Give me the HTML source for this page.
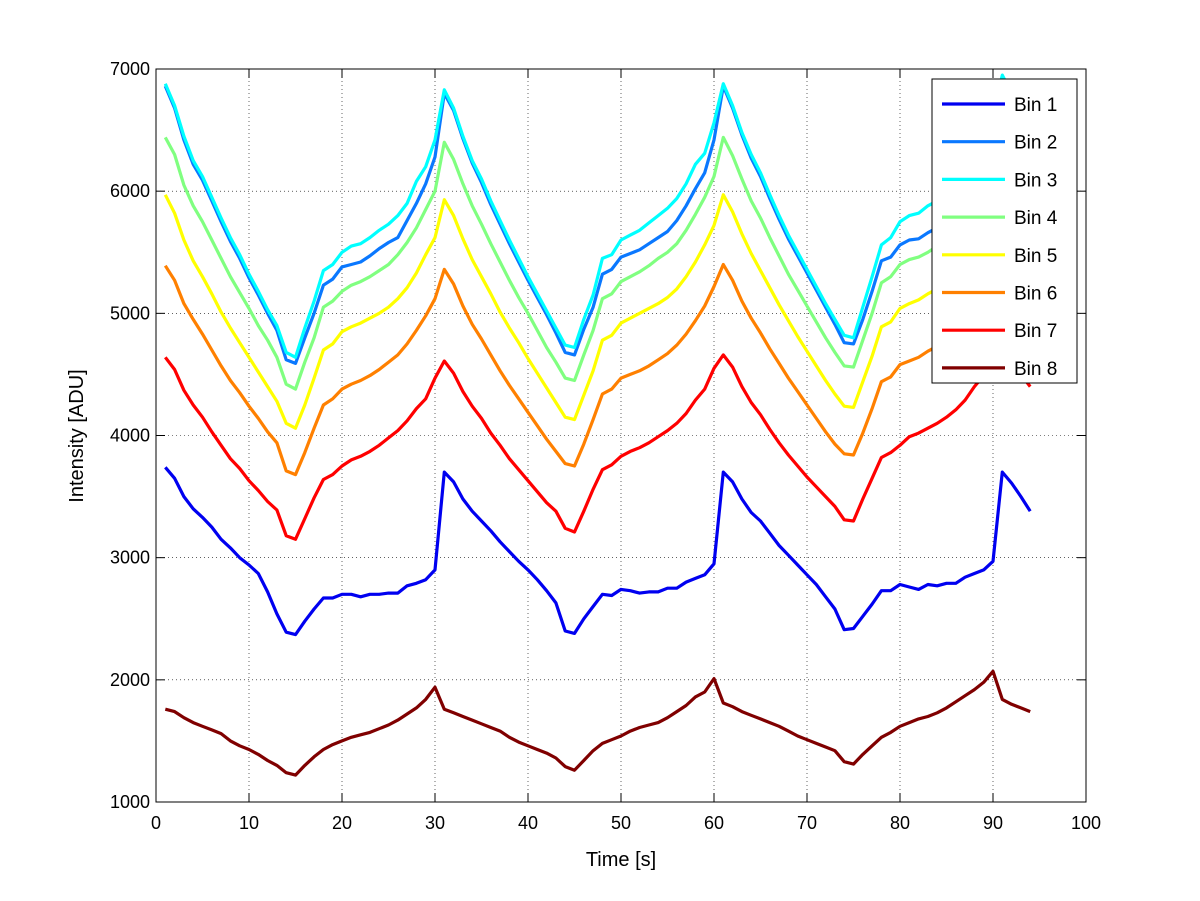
<!DOCTYPE html>
<html><head><meta charset="utf-8"><style>
html,body{margin:0;padding:0;background:#fff;}
svg{display:block;font-family:"Liberation Sans",sans-serif;}
</style></head><body>
<svg id="chart" width="1200" height="901" xmlns="http://www.w3.org/2000/svg"></svg>
<script>
const xTicks=[0,10,20,30,40,50,60,70,80,90,100];
const yTicks=[1000,2000,3000,4000,5000,6000,7000];
const seriesNames=["Bin 1","Bin 2","Bin 3","Bin 4","Bin 5","Bin 6","Bin 7","Bin 8"];
const seriesColors=["#0000f0","#0a78ff","#00ffff","#80ff80","#ffff00","#ff8000","#ff0000","#800000"];
const bin1=[3740,3650,3500,3400,3330,3250,3150,3080,3000,2940,2870,2720,2540,2390,2370,
2480,2580,2670,2670,2700,2700,2680,2700,2700,2710,2710,2770,2790,2820,2900,
3700,3620,3480,3380,3300,3220,3130,3050,2970,2900,2820,2730,2630,2400,2380,
2500,2600,2700,2690,2740,2730,2710,2720,2720,2750,2750,2800,2830,2860,2950,
3700,3620,3480,3370,3300,3200,3100,3020,2940,2860,2780,2680,2580,2410,2420,
2520,2620,2730,2730,2780,2760,2740,2780,2770,2790,2790,2840,2870,2900,2970,
3700,3610,3500,3380];
const bin2=[6860,6680,6420,6220,6090,5920,5750,5590,5450,5290,5150,5000,4860,4620,4590,
4800,5000,5230,5280,5380,5400,5420,5470,5530,5580,5620,5760,5900,6060,6280,
6800,6660,6430,6230,6070,5890,5730,5570,5420,5270,5130,4990,4840,4680,4660,
4870,5050,5320,5360,5460,5490,5520,5570,5620,5670,5760,5880,6020,6150,6420,
6860,6680,6460,6270,6120,5940,5770,5610,5470,5330,5190,5050,4910,4760,4750,
4950,5180,5430,5460,5560,5600,5610,5660,5700,5760,5830,5950,6100,6250,6450,
6900,6750,6560,6400];
const bin3=[6880,6700,6450,6250,6120,5950,5780,5620,5480,5320,5180,5030,4900,4680,4640,
4880,5100,5350,5400,5500,5550,5570,5620,5680,5730,5800,5900,6080,6200,6420,
6830,6680,6450,6250,6100,5920,5760,5600,5450,5300,5160,5020,4880,4740,4720,
4950,5150,5450,5480,5600,5640,5680,5740,5800,5860,5940,6060,6220,6310,6560,
6880,6700,6480,6300,6150,5970,5800,5640,5500,5360,5220,5080,4950,4820,4800,
5050,5300,5560,5620,5750,5800,5820,5880,5920,5980,6050,6150,6300,6430,6620,
6950,6800,6600,6450];
const bin4=[6440,6300,6050,5880,5750,5600,5450,5300,5170,5040,4900,4780,4640,4420,4380,
4600,4800,5050,5100,5180,5230,5260,5300,5350,5400,5480,5580,5700,5850,6000,
6400,6260,6060,5880,5730,5570,5420,5270,5130,5000,4860,4720,4600,4470,4450,
4660,4860,5120,5160,5260,5300,5340,5390,5450,5500,5570,5680,5810,5950,6120,
6440,6290,6100,5920,5780,5620,5470,5320,5190,5060,4930,4800,4680,4570,4560,
4780,5000,5250,5300,5400,5440,5460,5500,5550,5610,5680,5780,5900,6050,6250,
6500,6380,6200,6050];
const bin5=[5970,5820,5600,5430,5300,5160,5010,4880,4760,4640,4520,4400,4280,4100,4060,
4250,4470,4700,4750,4850,4890,4920,4960,5000,5050,5120,5210,5330,5480,5620,
5930,5800,5610,5440,5300,5160,5010,4880,4760,4630,4510,4390,4270,4150,4130,
4330,4530,4780,4820,4920,4960,5000,5040,5080,5130,5200,5300,5420,5560,5720,
5970,5830,5650,5490,5350,5210,5070,4940,4810,4690,4570,4450,4340,4240,4230,
4440,4650,4890,4930,5040,5080,5110,5160,5200,5260,5330,5430,5550,5700,5870,
6100,5980,5820,5680];
const bin6=[5390,5270,5080,4950,4830,4700,4570,4450,4350,4240,4140,4030,3940,3710,3680,
3860,4060,4250,4300,4380,4420,4450,4490,4540,4600,4660,4750,4860,4980,5120,
5360,5240,5060,4910,4790,4660,4530,4410,4300,4190,4080,3970,3870,3770,3750,
3930,4130,4340,4380,4470,4500,4530,4570,4620,4670,4740,4830,4940,5060,5220,
5400,5270,5100,4960,4840,4710,4590,4470,4360,4250,4140,4030,3930,3850,3840,
4020,4220,4440,4480,4580,4610,4640,4690,4730,4790,4860,4950,5070,5200,5350,
5500,5380,5230,5100];
const bin7=[4640,4540,4370,4250,4150,4030,3920,3810,3730,3630,3550,3460,3390,3180,3150,
3320,3490,3640,3680,3750,3800,3830,3870,3920,3980,4040,4120,4220,4300,4470,
4610,4510,4360,4240,4140,4020,3920,3810,3720,3630,3540,3450,3380,3240,3210,
3380,3560,3720,3760,3830,3870,3900,3940,3990,4040,4100,4180,4290,4380,4550,
4660,4560,4400,4270,4170,4050,3940,3840,3750,3660,3580,3500,3420,3310,3300,
3480,3650,3820,3860,3920,3990,4020,4060,4100,4150,4210,4290,4400,4490,4620,
4700,4600,4500,4400];
const bin8=[1760,1740,1690,1650,1620,1590,1560,1500,1460,1430,1390,1340,1300,1240,1220,
1300,1370,1430,1470,1500,1530,1550,1570,1600,1630,1670,1720,1770,1840,1940,
1760,1730,1700,1670,1640,1610,1580,1530,1490,1460,1430,1400,1360,1290,1260,
1340,1420,1480,1510,1540,1580,1610,1630,1650,1690,1740,1790,1860,1900,2010,
1810,1780,1740,1710,1680,1650,1620,1580,1540,1510,1480,1450,1420,1330,1310,
1390,1460,1530,1570,1620,1650,1680,1700,1730,1770,1820,1870,1920,1980,2070,
1840,1800,1770,1740];
const allSeries=[bin1,bin2,bin3,bin4,bin5,bin6,bin7,bin8];

const NS="http://www.w3.org/2000/svg";
const svg=document.getElementById('chart');
const L=156,R=1086,T=69,B=802;
const xS=v=>L+(v-0)/(100-0)*(R-L);
const yS=v=>B-(v-1000)/(7000-1000)*(B-T);
function mk(tag,attrs,parent){const e=document.createElementNS(NS,tag);for(const k in attrs)e.setAttribute(k,attrs[k]);(parent||svg).appendChild(e);return e;}

const bg=mk('rect',{x:L,y:T,width:R-L,height:B-T,fill:'#fff'});



const grid=mk('g',{});


xTicks.forEach(t=>{if(t>0&&t<100)mk('line',{x1:xS(t),x2:xS(t),y1:T,y2:B,stroke:'#000','stroke-width':0.6,'stroke-dasharray':'1,3'},grid);});
yTicks.forEach(t=>{if(t>1000&&t<7000)mk('line',{x1:L,x2:R,y1:yS(t),y2:yS(t),stroke:'#000','stroke-width':0.6,'stroke-dasharray':'1,3'},grid);});

const xAxis=mk('g',{});


xTicks.forEach(t=>{
  mk('line',{x1:xS(t),x2:xS(t),y1:B,y2:B-9,stroke:'#000','stroke-width':1},xAxis);
  mk('line',{x1:xS(t),x2:xS(t),y1:T,y2:T+9,stroke:'#000','stroke-width':1},xAxis);
  const tx=mk('text',{x:xS(t),y:B+27,'text-anchor':'middle','font-size':18,fill:'#000'},xAxis);
  tx.textContent=t;
  
  
});
const yAxis=mk('g',{});


yTicks.forEach(t=>{
  mk('line',{x1:L,x2:L+9,y1:yS(t),y2:yS(t),stroke:'#000','stroke-width':1},yAxis);
  mk('line',{x1:R,x2:R-9,y1:yS(t),y2:yS(t),stroke:'#000','stroke-width':1},yAxis);
  const tx=mk('text',{x:L-6,y:yS(t)+6,'text-anchor':'end','font-size':18,fill:'#000'},yAxis);
  tx.textContent=t;
  
  
});

const lines=mk('g',{});


allSeries.forEach((s,i)=>{
  const pts=s.map((v,j)=>xS(j+1).toFixed(1)+','+yS(v).toFixed(1)).join(' ');
  const p=mk('polyline',{points:pts,fill:'none',stroke:seriesColors[i],'stroke-width':3.2,'stroke-linejoin':'round'},lines);
  
  
});

const frame=mk('rect',{x:L,y:T,width:R-L,height:B-T,fill:'none',stroke:'#000','stroke-width':1});



const xt=mk('text',{x:(L+R)/2,y:866,'text-anchor':'middle','font-size':20,fill:'#000'});
xt.textContent='Time [s]';


const yt=mk('text',{x:0,y:0,'text-anchor':'middle','font-size':20,fill:'#000',transform:'translate(83,436) rotate(-90)'});
yt.textContent='Intensity [ADU]';



const legend=mk('g',{});


mk('rect',{x:932,y:79,width:145,height:304,fill:'#fff',stroke:'#000','stroke-width':1},legend);
seriesNames.forEach((n,i)=>{
  const g=mk('g',{},legend);
  
  
  const y=104+i*37.7;
  mk('line',{x1:942,x2:1005,y1:y,y2:y,stroke:seriesColors[i],'stroke-width':3.2},g);
  const t=mk('text',{x:1014,y:y+7,'font-size':19,fill:'#000'},g);
  t.textContent=n;
});
</script>
</body></html>
